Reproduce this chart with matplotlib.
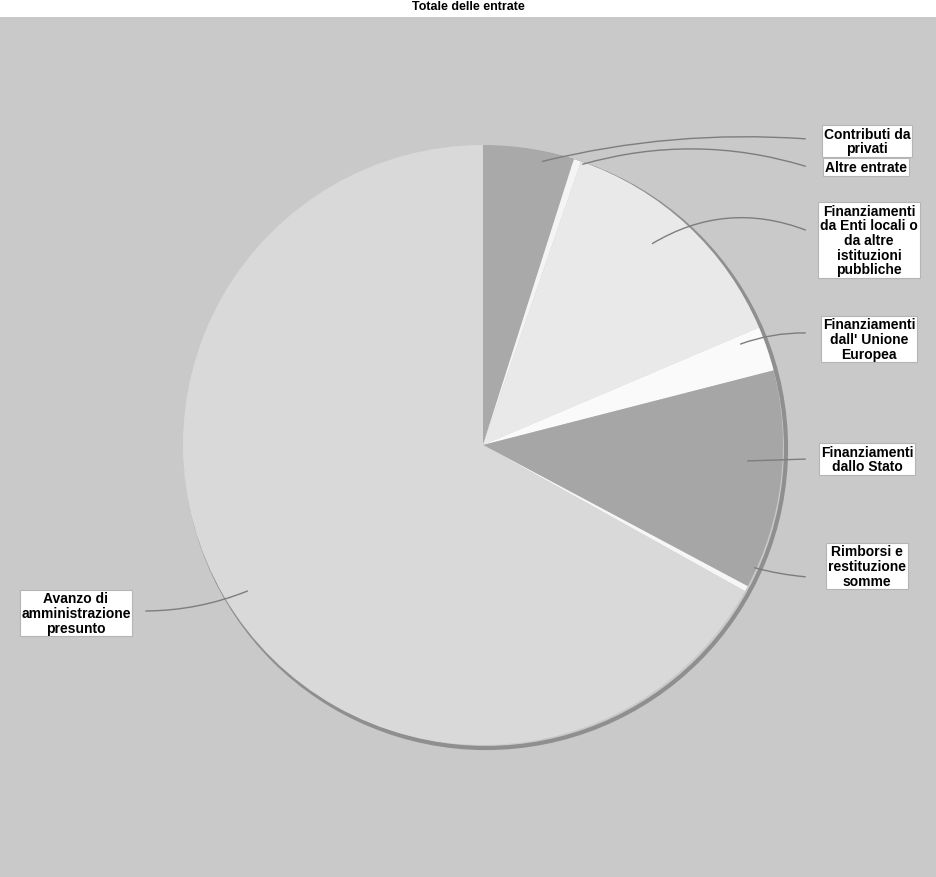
import matplotlib.pyplot as plt
from matplotlib.patches import Circle, Rectangle

# quote percentuali (senso orario da ore 12)
categories = [
    "Contributi da\nprivati",
    "Altre entrate",
    "Finanziamenti\nda Enti locali o\nda altre\nistituzioni\npubbliche",
    "Finanziamenti\ndall' Unione\nEuropea",
    "Finanziamenti\ndallo Stato",
    "Rimborsi e\nrestituzione\nsomme",
    "Avanzo di\namministrazione\npresunto",
]
values = [4.9, 0.4, 13.3, 2.4, 11.8, 0.3, 66.9]
colors = ['#a9a9a9', '#f4f4f4', '#e9e9e9', '#fafafa', '#a6a6a6', '#f6f6f6', '#d9d9d9']

W, H = 937, 878

fig = plt.figure(figsize=(W / 100, H / 100), dpi=100)
fig.patch.set_facecolor('white')
ax = fig.add_axes([0, 0, 1, 1])

# sfondo grigio dell'area del grafico
ax.add_patch(Rectangle((0, 0), W, H - 18, facecolor='#c9c9c9', edgecolor='none', zorder=0))

cx, cy, r = 483, H - 446, 300
ax.add_patch(Circle((cx + 3, cy - 3), r, facecolor='none', edgecolor='#8f8f8f', lw=3, zorder=1))
wedges, _ = ax.pie(values, colors=colors, startangle=90, counterclock=False,
                   center=(cx, cy), radius=r, frame=True,
                   wedgeprops=dict(edgecolor='none', zorder=2))
ax.set_xlim(0, W)
ax.set_ylim(0, H)
ax.set_aspect('equal')
ax.axis('off')

ax.text(W / 2, H - 7, "Totale delle entrate", ha='center', va='center',
        fontsize=9, fontweight='bold', family='Liberation Sans')

# posizioni etichette (coordinate immagine) e partenza linee guida
label_pos = [(867, 142), (866, 168), (869, 241), (869, 340), (867, 460), (867, 567), (76, 614)]
line_from = [(540, 163), (580, 166), (650, 246), (738, 346), (745, 462), (752, 568), (250, 591)]
line_to = [(808, 140), (808, 168), (808, 232), (808, 334), (808, 460), (808, 578), (143, 612)]
rads = [-0.08, -0.15, -0.25, -0.1, 0.0, 0.05, -0.1]

for lab, (lx, ly), (sx, sy), (ex, ey), rad in zip(categories, label_pos, line_from, line_to, rads):
    ax.annotate("", xy=(ex, H - ey), xytext=(sx, H - sy),
                arrowprops=dict(arrowstyle='-', color='#7d7d7d', lw=1.0,
                                connectionstyle=f"arc3,rad={rad}"), zorder=3)
    ax.text(lx, H - ly, lab, ha='center', va='center', fontsize=10, fontweight='bold',
            family='Liberation Sans', linespacing=1.05, zorder=4,
            bbox=dict(boxstyle='square,pad=0.12', facecolor='white', edgecolor='#b5b5b5', lw=0.8))

fig.savefig('out.png', dpi=100)
